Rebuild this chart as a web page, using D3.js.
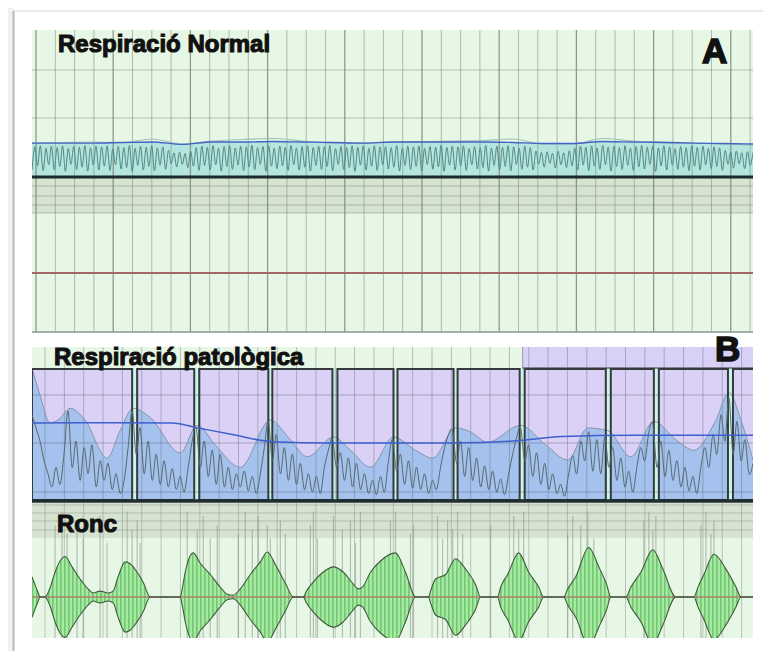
<!DOCTYPE html>
<html>
<head>
<meta charset="utf-8">
<script src="https://cdn.jsdelivr.net/npm/d3@7"></script>
<style>
  body { margin: 0; background: #fff; }
  svg { display: block; }
</style>
</head>
<body>
<div id="chart"></div>
<script>
// ---- data ----
// panel A: normal breathing flow, alternating trough / peak samples (0 = baseline, 10 = top of band)
var normalFlow = [
  2.0, 8.6, 3.2, 8.9, 1.8, 8.2, 3.5, 8.8, 2.1, 8.4,
  3.0, 8.9, 1.6, 8.1, 3.6, 8.7, 2.2, 8.5, 2.8, 9.0,
  1.7, 8.3, 3.4, 8.8, 2.0, 8.6, 3.1, 8.9, 1.9, 8.0,
  3.5, 8.7, 2.3, 8.4, 2.7, 9.0, 1.6, 8.2, 3.3, 8.8,
  2.0, 8.5, 3.0, 8.9, 1.8, 8.3, 3.4, 8.6, 2.2, 7.6,
  3.8, 6.9, 2.9, 7.1, 3.6, 6.7, 2.7, 7.3, 3.1, 8.4,
  1.9, 8.8, 3.3, 8.5, 2.0, 9.0, 3.5, 8.2, 1.7, 8.7,
  3.0, 8.9, 2.2, 8.3, 3.4, 8.8, 1.8, 8.6, 2.9, 9.1,
  2.1, 8.4, 3.6, 8.7, 1.6, 8.9, 3.1, 8.2, 2.4, 8.8,
  3.2, 8.5, 1.9, 9.0, 3.5, 8.3, 2.0, 8.7, 2.8, 8.9,
  1.7, 8.4, 3.3, 8.8, 2.2, 8.6, 3.0, 9.0, 1.8, 8.1,
  3.6, 8.7, 2.1, 8.4, 2.7, 8.9, 1.6, 8.5, 3.4, 8.8,
  2.0, 8.2, 3.1, 8.9, 1.9, 8.6, 3.5, 8.7, 2.3, 8.4,
  2.8, 9.0, 1.7, 8.3, 3.3, 8.8, 2.1, 8.6, 3.0, 8.9,
  1.8, 8.2, 3.6, 8.7, 2.2, 8.5, 2.9, 9.1, 1.6, 8.4,
  3.4, 8.8, 2.0, 8.6, 3.2, 8.9, 1.9, 8.1, 3.5, 8.7,
  2.3, 8.4, 2.7, 9.0, 1.7, 8.3, 3.3, 8.8, 2.1, 8.5,
  3.0, 8.9, 1.8, 8.6, 3.6, 8.2, 2.2, 8.8, 2.8, 8.4,
  2.0, 7.4, 3.7, 7.0, 2.8, 7.2, 3.9, 6.8, 2.6, 7.3,
  3.5, 6.9, 2.7, 7.5, 3.2, 8.2, 2.0, 8.8, 3.4, 8.5,
  1.8, 8.9, 3.1, 8.3, 2.2, 9.0, 3.5, 8.6, 1.7, 8.8,
  3.0, 8.4, 2.1, 8.9, 3.3, 8.2, 1.9, 8.7, 2.9, 9.0,
  2.3, 8.5, 3.6, 8.8, 1.6, 8.3, 3.2, 8.9, 2.0, 8.6,
  3.4, 8.1, 2.2, 8.7, 2.8, 8.4, 1.8, 8.9, 3.1, 8.5,
  2.0, 8.8, 3.5, 8.2, 2.4, 8.6, 3.0, 8.3, 1.9, 7.6,
  3.6, 7.1, 2.5, 7.4, 3.8, 6.9, 2.4, 7.2, 3.3, 7.0
]
// panel A: trend (blue) and envelope (pale) lines, one value every 15 s
var normalTrend = [9.7, 9.7, 9.7, 9.86, 10, 9.3, 10, 10, 10.14, 10, 9.86, 9.7, 10, 10, 10, 10, 9.86, 9.57, 9.57, 10.14, 10, 9.86, 9.7, 9.57, 9.43]
var normalEnvelope = [9.71, 9.86, 10, 9.86, 10.86, 9.43, 10.29, 10.71, 11.0, 10.29, 9.71, 9.71, 10, 10.14, 10.29, 10.43, 10.86, 9.43, 9.43, 11.0, 10.29, 10, 9.71, 9.43, 9.14]

// panel B: apnea events (start, end in seconds) and the top event band
var apneaEvents = [[0, 50], [52.5, 81], [83.5, 118], [120, 150], [152.5, 180.5], [182.5, 210.5],
                   [212.5, 243.5], [246, 286.5], [289, 310.5], [313, 347.5], [350, 362]]
var eventBand = [[245, 362]]
// panel B: effort envelope (seconds, level)
var effortEnvelope = [[0, 10.1], [4, 8.0], [9, 5.9], [13, 6.1], [19, 7.0], [26.5, 6.1], [37.5, 3.2], [44, 5.3],
  [50.5, 7.0], [59, 6.3], [74, 3.6], [82.5, 5.7], [91.5, 4.2], [104, 2.5], [119, 6.1], [129, 4.6],
  [137.5, 3.3], [150.5, 4.8], [159, 3.8], [169, 2.5], [180.5, 4.8], [191.5, 3.8], [200, 3.2], [211.5, 5.5],
  [219, 5.2], [227.5, 4.4], [244, 5.7], [256.5, 4.2], [267.5, 3.05], [277.5, 5.5], [287.5, 5.3], [299, 3.3],
  [310.5, 6.0], [321.5, 4.6], [330.5, 3.8], [341.5, 6.1], [348, 8.2], [354, 6.1], [360, 3.05]]
// panel B: airflow, one sample every 2 s
var apneaFlow = [
  6.5, 5.5, 4.5, 3.0, 2.0, 1.0, 2.5, 1.2, 3.5, 6.8,
  2.5, 4.5, 1.5, 4.0, 2.0, 4.2, 1.0, 3.0, 1.5, 2.8,
  0.8, 2.0, 0.5, 1.5, 4.0, 6.8, 3.5, 5.5, 2.0, 4.5,
  1.5, 3.5, 1.2, 3.0, 1.0, 2.4, 0.8, 1.8, 0.6, 2.5,
  4.5, 5.5, 2.5, 4.5, 1.8, 3.8, 1.2, 3.5, 1.0, 2.5,
  0.8, 2.0, 1.0, 2.2, 0.7, 1.8, 0.5, 2.0, 4.0, 6.0,
  3.0, 5.0, 2.0, 4.0, 1.5, 3.5, 1.2, 2.8, 0.8, 2.0,
  0.6, 1.8, 0.5, 2.5, 3.8, 4.7, 2.5, 3.6, 1.5, 3.2,
  1.0, 2.8, 0.8, 2.0, 0.5, 1.5, 0.4, 1.8, 0.6, 3.0,
  4.6, 2.2, 3.5, 1.2, 3.0, 0.9, 2.5, 0.8, 2.0, 0.5,
  1.5, 0.8, 2.5, 4.0, 5.0, 5.3, 2.8, 4.5, 1.8, 4.0,
  1.5, 3.2, 1.0, 2.6, 0.8, 2.2, 0.6, 1.6, 0.4, 2.0,
  3.5, 4.8, 5.5, 3.0, 4.2, 1.8, 3.6, 1.2, 2.8, 0.8,
  2.0, 0.5, 1.2, 0.3, 2.0, 3.4, 2.0, 4.5, 3.0, 5.2,
  2.2, 4.6, 2.0, 4.8, 2.5, 4.0, 1.5, 3.2, 1.0, 2.2,
  0.6, 2.5, 4.0, 3.0, 5.2, 5.8, 2.5, 4.5, 1.8, 3.8,
  1.5, 3.0, 1.0, 2.5, 0.7, 1.8, 0.5, 2.5, 4.0, 2.5,
  5.0, 3.5, 6.5, 4.5, 7.8, 3.5, 6.0, 3.0, 4.6, 2.0,
  2.8
]
// panel B: blue trend (seconds, level)
var apneaTrend = [[0, 5.88], [40, 5.9], [70, 5.88], [83, 5.5], [100, 5.0], [120, 4.45], [150, 4.35], [175, 4.35],
  [210, 4.35], [240, 4.5], [265, 4.85], [300, 4.95], [360, 4.95]]

// snoring: envelope of the sound (seconds, amplitude) and isolated snore spikes (seconds, height)
var snoreEnvelope = [[0, 0.45], [3, 0.1], [4, 0], [6.5, 0], [7.5, 0.05], [9, 0.2], [11.5, 0.55], [14, 0.8],
  [16.5, 0.9], [20, 0.67], [24, 0.4], [28, 0.18], [30.5, 0.09], [34, 0.13], [38, 0.09], [40.5, 0.13],
  [43, 0.45], [46.5, 0.78], [49, 0.74], [52.5, 0.55], [55.5, 0.33], [59, 0], [74, 0], [75, 0.18],
  [76.5, 0.55], [80.5, 0.98], [84, 0.75], [89, 0.5], [94, 0.22], [97.5, 0.06], [100.5, 0.04], [104, 0.18],
  [109, 0.5], [114, 0.78], [117.5, 1.0], [121.5, 0.72], [126.5, 0.31], [130.5, 0], [135.5, 0], [137, 0.13],
  [140, 0.31], [144, 0.5], [150.5, 0.67], [155.5, 0.55], [160, 0.31], [163, 0.18], [165, 0.22], [169, 0.55],
  [174, 0.8], [181.5, 0.98], [186.5, 0.55], [191.5, 0], [198, 0], [199, 0.13], [201.5, 0.4], [206.5, 0.5],
  [211.5, 0.85], [216.5, 0.62], [221.5, 0.27], [224, 0], [232.5, 0], [234, 0.22], [237.5, 0.5], [243, 0.98],
  [248, 0.55], [253, 0.22], [255.5, 0], [265.5, 0], [267.5, 0.18], [271.5, 0.45], [278, 1.1], [283, 0.67],
  [287, 0.27], [289, 0], [296.5, 0], [299, 0.22], [304, 0.55], [310, 1.05], [315, 0.62], [321.5, 0],
  [330.5, 0], [332.5, 0.22], [335.5, 0.5], [340.5, 0.95], [346.5, 0.62], [351.5, 0.22], [354, 0], [360, 0]]
var snoreSpikes = [[11.5, 1.6], [15, 1.9], [17.5, 1.4], [22.5, 1.7], [25.5, 1.3], [34, 1.8], [37.5, 1.2],
  [47.5, 1.9], [50, 1.5], [52.5, 1.7], [54, 1.2], [77.5, 1.9], [82.5, 1.5], [85.5, 1.8], [89, 1.3],
  [92.5, 1.6], [103, 1.4], [106.5, 1.9], [110, 1.5], [113, 1.8], [117.5, 1.6], [119, 1.3], [124, 1.7],
  [126.5, 1.4], [139, 1.6], [140.5, 1.9], [142.5, 1.3], [150.5, 1.8], [155, 1.5], [159, 1.7], [161.5, 1.2],
  [164, 1.9], [179, 1.7], [181.5, 1.9], [189, 1.4], [190.5, 1.6], [202.5, 1.8], [205, 1.3], [207.5, 1.7],
  [210, 1.5], [212.5, 1.9], [215, 1.4], [229, 1.6], [240.5, 1.8], [243, 1.5], [245.5, 1.9], [267.5, 1.4],
  [270, 1.8], [274, 1.6], [277.5, 1.9], [280.5, 1.3], [305.5, 1.7], [308, 1.9], [310, 1.5], [311.5, 1.8],
  [334, 1.6], [336.5, 1.9], [339, 1.4], [340.5, 1.7]]

var panelTitles = ["Respiració Normal", "Respiració patològica", "Ronc"]
var panelLetters = ["A", "B"]

// ---- layout ----
var W = 763, H = 651
var left = 32, right = 753
var green = "#e7f7e5", band = "#d5e3d0", gridCol = "#7d8a7d"

var svg = d3.select("#chart").append("svg")
  .attr("width", W).attr("height", H)
  .style("font-family", "'Liberation Sans', Arial, sans-serif")

var defs = svg.append("defs")
var pat = defs.append("pattern").attr("id", "stripes")
  .attr("width", 4).attr("height", 10).attr("patternUnits", "userSpaceOnUse")
pat.append("rect").attr("width", 4).attr("height", 10).attr("fill", "#a6e9a3")
pat.append("rect").attr("width", 1.6).attr("height", 10).attr("fill", "#72c870")

function clip(id, y0, y1) {
  defs.append("clipPath").attr("id", id).append("rect")
    .attr("x", left).attr("y", y0).attr("width", right - left).attr("height", y1 - y0)
  return "url(#" + id + ")"
}

// frame with shadow
svg.append("rect").attr("width", W).attr("height", H).attr("fill", "#fff")
svg.append("rect").attr("x", 8).attr("y", 8).attr("width", 6).attr("height", H).attr("fill", "#f0f0f0")
svg.append("line").attr("x1", 13).attr("x2", W).attr("y1", 11).attr("y2", 11).attr("stroke", "#e2e2e2").attr("stroke-width", 1.5)
svg.append("line").attr("x1", 13.5).attr("x2", 13.5).attr("y1", 11).attr("y2", H).attr("stroke", "#b9b9b9").attr("stroke-width", 2)

var xTime = d3.scaleLinear().domain([0, 360]).range([left, right])

// ================= panel A =================
var aTop = 30, aBase = 177, aBottom = 332
var xA = d3.scaleLinear().domain([0, normalFlow.length - 1]).range([left, right])
var xA15 = d3.scaleLinear().domain([0, normalTrend.length - 1]).range([left, right])
var yA = d3.scaleLinear().domain([0, 10]).range([aBase, 142])

var gA = svg.append("g").attr("clip-path", clip("clipA", aTop, aBottom + 1))
gA.append("rect").attr("x", left).attr("y", aTop).attr("width", right - left).attr("height", aBottom - aTop).attr("fill", green)
gA.append("rect").attr("x", left).attr("y", aBase).attr("width", right - left).attr("height", 36).attr("fill", band)

gA.append("path")
  .datum(normalEnvelope)
  .attr("fill", "#b4e5de")
  .attr("d", d3.area().x(function(d, i) { return xA15(i) }).y0(yA(0)).y1(function(d) { return yA(Math.min(d, 10)) }).curve(d3.curveMonotoneX))

// grid A
var gridA = d3.range(36, right, 19.3)
gA.selectAll(".vgA").data(gridA).enter().append("line")
  .attr("x1", function(d) { return d }).attr("x2", function(d) { return d })
  .attr("y1", aTop).attr("y2", aBottom)
  .attr("stroke", gridCol)
  .attr("stroke-opacity", function(d, i) { return i % 4 == 0 ? 0.85 : 0.55 })
  .attr("stroke-width", function(d, i) { return i % 4 == 0 ? 1.3 : 1 })
gA.selectAll(".hgA").data([70, 118, 186, 196, 205, 213]).enter().append("line")
  .attr("x1", left).attr("x2", right).attr("y1", function(d) { return d }).attr("y2", function(d) { return d })
  .attr("stroke", gridCol).attr("stroke-opacity", 0.5)

gA.append("path")
  .datum(normalFlow)
  .attr("fill", "none").attr("stroke", "#4f8783").attr("stroke-width", 1)
  .attr("d", d3.line().x(function(d, i) { return xA(i) }).y(function(d) { return yA(d) }).curve(d3.curveCardinal))

gA.append("path")
  .datum(normalEnvelope)
  .attr("fill", "none").attr("stroke", "#9fc2b6").attr("stroke-width", 1.2)
  .attr("d", d3.line().x(function(d, i) { return xA15(i) }).y(function(d) { return yA(d) }).curve(d3.curveMonotoneX))
gA.append("path")
  .datum(normalTrend)
  .attr("fill", "none").attr("stroke", "#4262c4").attr("stroke-width", 1.3)
  .attr("d", d3.line().x(function(d, i) { return xA15(i) }).y(function(d) { return yA(d) }).curve(d3.curveMonotoneX))

gA.append("line").attr("x1", left).attr("x2", right).attr("y1", aBase).attr("y2", aBase).attr("stroke", "#1b2a2a").attr("stroke-width", 3)
gA.append("line").attr("x1", left).attr("x2", right).attr("y1", 273).attr("y2", 273).attr("stroke", "#a06a66").attr("stroke-width", 2)
gA.append("line").attr("x1", left).attr("x2", right).attr("y1", aBottom).attr("y2", aBottom).attr("stroke", "#8a948a").attr("stroke-width", 1.5)

// ================= panel B =================
var bTop = 347, boxTop = 369, bBase = 500
var xB = d3.scaleLinear().domain([0, apneaFlow.length - 1]).range([left, right])
var yB = d3.scaleLinear().domain([0, 10]).range([bBase, boxTop])

var gB = svg.append("g").attr("clip-path", clip("clipB", bTop, bBase + 3))
gB.append("rect").attr("x", left).attr("y", bTop).attr("width", right - left).attr("height", bBase - bTop).attr("fill", green)

gB.selectAll(".band").data(eventBand).enter().append("rect")
  .attr("x", function(d) { return xTime(d[0]) }).attr("y", bTop)
  .attr("width", function(d) { return xTime(d[1]) - xTime(d[0]) }).attr("height", boxTop - 1 - bTop)
  .attr("fill", "#d8d0f6")
gB.selectAll(".bandLine").data(eventBand).enter().append("line")
  .attr("x1", function(d) { return xTime(d[0]) }).attr("x2", function(d) { return xTime(d[1]) })
  .attr("y1", boxTop - 1).attr("y2", boxTop - 1).attr("stroke", "#6a6a7a").attr("stroke-width", 1.5)
gB.selectAll(".bandEdge").data(eventBand).enter().append("line")
  .attr("x1", function(d) { return xTime(d[0]) }).attr("x2", function(d) { return xTime(d[0]) })
  .attr("y1", bTop).attr("y2", boxTop).attr("stroke", "#9a9aa8").attr("stroke-width", 1)

gB.selectAll(".event").data(apneaEvents).enter().append("rect")
  .attr("x", function(d) { return xTime(d[0]) }).attr("y", boxTop)
  .attr("width", function(d) { return xTime(d[1]) - xTime(d[0]) }).attr("height", bBase - boxTop)
  .attr("fill", "#dbd1f6")

gB.append("path")
  .datum(effortEnvelope)
  .attr("fill", "#9fc0ee").attr("fill-opacity", 0.9)
  .attr("d", d3.area().x(function(d) { return xTime(d[0]) }).y0(yB(0)).y1(function(d) { return yB(d[1]) }).curve(d3.curveMonotoneX))

// gaps between events
var gaps = apneaEvents.slice(1).map(function(d, i) { return [apneaEvents[i][1], d[0]] })
gB.selectAll(".gap").data(gaps).enter().append("rect")
  .attr("x", function(d) { return xTime(d[0]) }).attr("y", boxTop)
  .attr("width", function(d) { return xTime(d[1]) - xTime(d[0]) }).attr("height", bBase - boxTop)
  .attr("fill", "#ccf4ec")

// grid B
var gridB = d3.range(45, right, 19.35)
gB.selectAll(".vgB").data(gridB).enter().append("line")
  .attr("x1", function(d) { return d }).attr("x2", function(d) { return d })
  .attr("y1", bTop).attr("y2", bBase)
  .attr("stroke", "#5e6870").attr("stroke-opacity", 0.4)
gB.selectAll(".hgB").data([395, 443, 492]).enter().append("line")
  .attr("x1", left).attr("x2", right).attr("y1", function(d) { return d }).attr("y2", function(d) { return d })
  .attr("stroke", "#5e6870").attr("stroke-opacity", 0.45)

gB.append("path")
  .datum(effortEnvelope)
  .attr("fill", "none").attr("stroke", "#8595aa").attr("stroke-width", 1)
  .attr("d", d3.line().x(function(d) { return xTime(d[0]) }).y(function(d) { return yB(d[1]) }).curve(d3.curveMonotoneX))

gB.selectAll(".eventBox").data(apneaEvents).enter().append("rect")
  .attr("x", function(d) { return xTime(d[0]) }).attr("y", boxTop)
  .attr("width", function(d) { return xTime(d[1]) - xTime(d[0]) }).attr("height", bBase - boxTop)
  .attr("fill", "none").attr("stroke", "#353b3b").attr("stroke-width", 2)

gB.append("path")
  .datum(apneaFlow)
  .attr("fill", "none").attr("stroke", "#56696b").attr("stroke-width", 1)
  .attr("d", d3.line().x(function(d, i) { return xB(i) }).y(function(d) { return yB(d) }).curve(d3.curveCardinal))

gB.append("path")
  .datum(apneaTrend)
  .attr("fill", "none").attr("stroke", "#3f5fd0").attr("stroke-width", 1.5)
  .attr("d", d3.line().x(function(d) { return xTime(d[0]) }).y(function(d) { return yB(d[1]) }).curve(d3.curveMonotoneX))

gB.append("line").attr("x1", left).attr("x2", right).attr("y1", bBase + 1).attr("y2", bBase + 1).attr("stroke", "#1f2d30").attr("stroke-width", 3.5)

// ================= snoring =================
var rTop = 503, rBandBottom = 538, rBottom = 638
var yR = d3.scaleLinear().domain([-1, 1]).range([642, 552])

var gR = svg.append("g").attr("clip-path", clip("clipR", rTop, rBottom))
gR.append("rect").attr("x", left).attr("y", rTop).attr("width", right - left).attr("height", rBottom - rTop).attr("fill", green)
gR.append("rect").attr("x", left).attr("y", rTop).attr("width", right - left).attr("height", rBandBottom - rTop).attr("fill", band)
gR.selectAll(".hgR").data([505, 513, 521, 530]).enter().append("line")
  .attr("x1", left).attr("x2", right).attr("y1", function(d) { return d }).attr("y2", function(d) { return d })
  .attr("stroke", gridCol).attr("stroke-opacity", 0.4)
gR.selectAll(".vgR").data(gridB).enter().append("line")
  .attr("x1", function(d) { return d }).attr("x2", function(d) { return d })
  .attr("y1", rTop).attr("y2", rBottom)
  .attr("stroke", "#8c968c").attr("stroke-opacity", 0.5)

gR.selectAll(".spike").data(snoreSpikes).enter().append("line")
  .attr("x1", function(d) { return xTime(d[0]) }).attr("x2", function(d) { return xTime(d[0]) })
  .attr("y1", function(d) { return yR(d[1]) }).attr("y2", function(d) { return yR(-Math.min(d[1], 0.95)) })
  .attr("stroke", "#8f998f").attr("stroke-opacity", 0.6).attr("stroke-width", 1.2)

var snoreArea = d3.area()
  .x(function(d) { return xTime(d[0]) })
  .y0(function(d) { return yR(-d[1]) })
  .y1(function(d) { return yR(d[1]) })
  .curve(d3.curveMonotoneX)
gR.append("path").datum(snoreEnvelope).attr("fill", "url(#stripes)").attr("d", snoreArea)

gR.append("line").attr("x1", left).attr("x2", right).attr("y1", yR(0)).attr("y2", yR(0))
  .attr("stroke", "#b56d66").attr("stroke-width", 1.3).attr("stroke-opacity", 0.8)

gR.append("path").datum(snoreEnvelope)
  .attr("fill", "none").attr("stroke", "#40583f").attr("stroke-width", 1.1)
  .attr("d", d3.line().x(function(d) { return xTime(d[0]) }).y(function(d) { return yR(d[1]) }).curve(d3.curveMonotoneX))
gR.append("path").datum(snoreEnvelope)
  .attr("fill", "none").attr("stroke", "#40583f").attr("stroke-width", 1.1)
  .attr("d", d3.line().x(function(d) { return xTime(d[0]) }).y(function(d) { return yR(-d[1]) }).curve(d3.curveMonotoneX))

// ---- labels ----
var titlePos = [[58, 52], [54, 365], [57, 532]]
svg.selectAll(".title").data(panelTitles).enter().append("text")
  .attr("x", function(d, i) { return titlePos[i][0] }).attr("y", function(d, i) { return titlePos[i][1] })
  .attr("font-size", 24).attr("font-weight", "bold")
  .attr("fill", "#111").attr("stroke", "#111").attr("stroke-width", 1.1)
  .text(function(d) { return d })

var letterPos = [[702, 63], [715, 361]]
svg.selectAll(".letter").data(panelLetters).enter().append("text")
  .attr("x", function(d, i) { return letterPos[i][0] }).attr("y", function(d, i) { return letterPos[i][1] })
  .attr("font-size", 35).attr("font-weight", "bold")
  .attr("fill", "#111").attr("stroke", "#111").attr("stroke-width", 1.6)
  .text(function(d) { return d })
</script>
</body>
</html>
